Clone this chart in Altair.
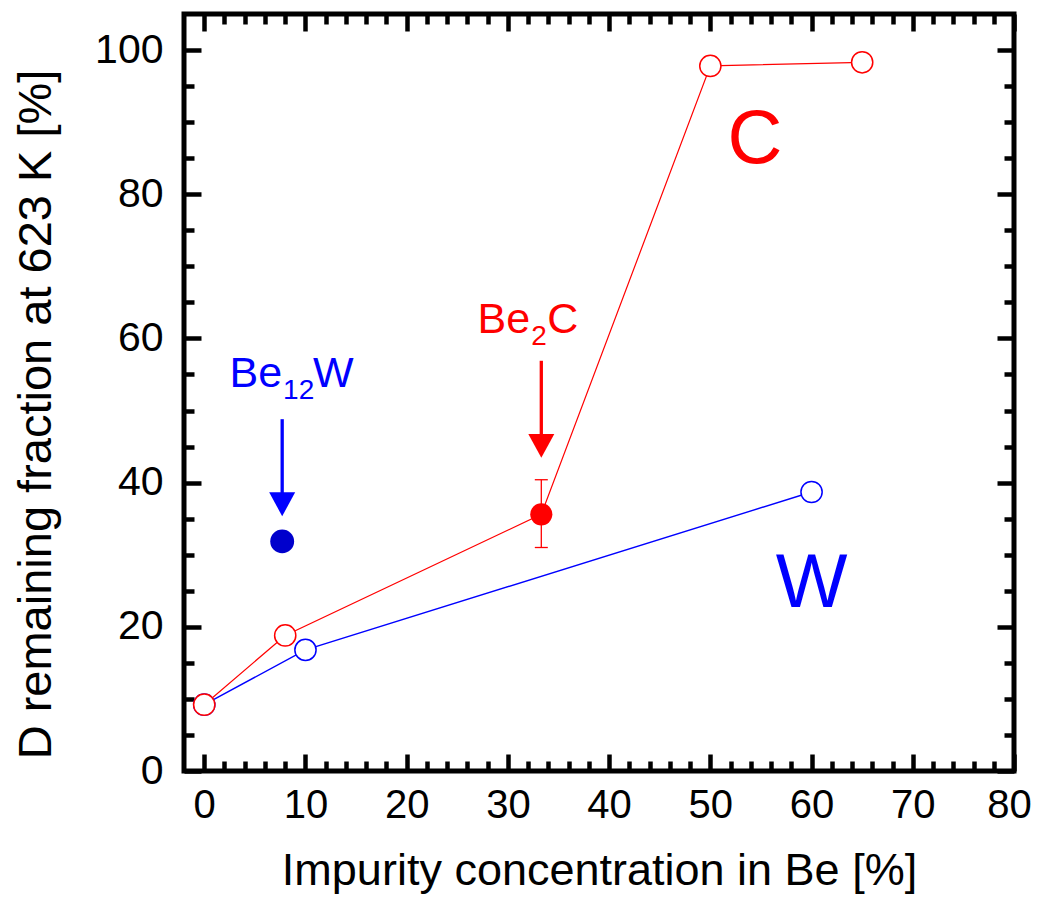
import altair as alt
import pandas as pd

FONT = "Liberation Sans"
RED = "#FF0000"
BLUE = "#0000FF"
DARKBLUE = "#0000CC"

# ---------------- data ----------------
c_x = [0, 8, 33.3, 50, 65]
c_y = [9.2, 18.8, 35.6, 97.8, 98.3]
c_open = [True, True, False, True, True]

w_x = [0, 10, 60]
w_y = [9.2, 16.8, 38.7]

be12w_x = [7.7]
be12w_y = [31.85]

be2c_x = [33.3]
be2c_y = [35.6]
be2c_err_lo = [31.0]
be2c_err_hi = [40.4]

# annotations
arrow_x = [7.7, 33.3]
arrow_top = [48.8, 56.9]
arrow_head = [37.0, 45.1]
arrow_color = [BLUE, RED]

formula_x = [7.69, 32.2]
formula_y = [53.2, 60.7]
formula_main = ["Be", "Be"]
formula_sub = ["12", "2"]
formula_color = [BLUE, RED]

big_x = [54.4, 60.0]
big_y = [84.3, 22.7]
big_text = ["C", "W"]
big_color = [RED, BLUE]

x_major = list(range(0, 81, 10))
x_minor = [v for v in range(0, 81, 2) if v % 10]
y_major = list(range(0, 101, 20))
y_minor = [v for v in range(0, 101, 5) if v % 20]

W, H = 830, 757

xs = alt.Scale(domain=[-2, 80], nice=False, zero=False)
ys = alt.Scale(domain=[0, 105], nice=False, zero=False)


def X(field="x"):
    return alt.X(f"{field}:Q", scale=xs, axis=None)


def Y(field="y"):
    return alt.Y(f"{field}:Q", scale=ys, axis=None)


# ---------------- data layers ----------------
c_df = pd.DataFrame({"x": c_x, "y": c_y, "o": list(range(len(c_x))), "open": c_open})
w_df = pd.DataFrame({"x": w_x, "y": w_y, "o": list(range(len(w_x)))})

line_w = alt.Chart(w_df).mark_line(color=BLUE, strokeWidth=1.4).encode(
    x=X(), y=Y(), order="o:Q")
line_c = alt.Chart(c_df).mark_line(color=RED, strokeWidth=1.2).encode(
    x=X(), y=Y(), order="o:Q")

err_df = pd.DataFrame({"x": be2c_x, "lo": be2c_err_lo, "hi": be2c_err_hi})
err_rule = alt.Chart(err_df).mark_rule(color=RED, strokeWidth=1.3).encode(
    x=X(), y=Y("lo"), y2="hi:Q")
cap_df = pd.DataFrame({"x": be2c_x * 2, "y": be2c_err_lo + be2c_err_hi})
err_caps = alt.Chart(cap_df).mark_tick(color=RED, orient="horizontal", size=13,
                                      thickness=1.3, opacity=1).encode(x=X(), y=Y())

open_w = alt.Chart(w_df).mark_circle(fill="white", stroke=BLUE, strokeWidth=1.5,
                                     size=450, opacity=1).encode(x=X(), y=Y())
open_c = alt.Chart(c_df[c_df["open"]]).mark_circle(fill="white", stroke=RED, strokeWidth=1.5,
                                                   size=450, opacity=1).encode(x=X(), y=Y())

fill_be12w = alt.Chart(pd.DataFrame({"x": be12w_x, "y": be12w_y})).mark_circle(
    color=DARKBLUE, size=570, opacity=1).encode(x=X(), y=Y())
fill_be2c = alt.Chart(pd.DataFrame({"x": be2c_x, "y": be2c_y})).mark_circle(
    color=RED, size=490, opacity=1).encode(x=X(), y=Y())

arrow_df = pd.DataFrame({"x": arrow_x, "top": arrow_top, "head": arrow_head, "c": arrow_color})
arrow_shaft = alt.Chart(arrow_df).mark_rule(strokeWidth=3.3).encode(
    x=X(), y=Y("top"), y2="head:Q", color=alt.Color("c:N", scale=None))
arrow_tip = alt.Chart(arrow_df).mark_point(
    shape="M -1 -0.92 L 1 -0.92 L 0 0.92 Z", size=676, filled=True, opacity=1,
    strokeWidth=0).encode(x=X(), y=Y("head"), color=alt.Color("c:N", scale=None))

f_df = pd.DataFrame({"x": formula_x, "y": formula_y, "m": formula_main,
                     "s": formula_sub, "c": formula_color})
f_main = alt.Chart(f_df).mark_text(font=FONT, fontSize=43, align="right",
                                   baseline="alphabetic").encode(
    x=X(), y=Y(), text="m:N", color=alt.Color("c:N", scale=None))
f_sub = alt.Chart(f_df).mark_text(font=FONT, fontSize=28, align="left",
                                  baseline="alphabetic", dx=1, dy=11.5).encode(
    x=X(), y=Y(), text="s:N", color=alt.Color("c:N", scale=None))
f_tail_w = alt.Chart(f_df.iloc[[0]]).mark_text(font=FONT, fontSize=43, align="left",
                                               baseline="alphabetic", dx=31, text="W").encode(
    x=X(), y=Y(), color=alt.Color("c:N", scale=None))
f_tail_c = alt.Chart(f_df.iloc[[1]]).mark_text(font=FONT, fontSize=43, align="left",
                                               baseline="alphabetic", dx=17, text="C").encode(
    x=X(), y=Y(), color=alt.Color("c:N", scale=None))

big_df = pd.DataFrame({"x": big_x, "y": big_y, "t": big_text, "c": big_color})
big = alt.Chart(big_df).mark_text(font=FONT, fontSize=76, align="center",
                                  baseline="alphabetic").encode(
    x=X(), y=Y(), text="t:N", color=alt.Color("c:N", scale=None))

# ---------------- axis layers ----------------
dummy = pd.DataFrame({"x": [0], "y": [0]})


def tick_axis(orient, offset, values, size):
    return alt.Axis(orient=orient, offset=offset, values=values, ticks=True,
                    tickSize=size, tickWidth=4.5, tickColor="black", labels=False,
                    domain=False, grid=False, title=None)


x_label_axis = alt.Axis(orient="bottom", values=x_major, ticks=False, tickSize=0,
                        labelFont=FONT, labelFontSize=40, labelPadding=14,
                        labelOffset={"condition": {"test": "datum.value == 80", "value": -5},
                                     "value": 0},
                        labelColor="black", labelFlush=False, labelOverlap=False,
                        domain=False, grid=False,
                        title="Impurity concentration in Be [%]", titleFont=FONT,
                        titleFontSize=45, titleFontWeight="normal", titleColor="black",
                        titleX=W / 2, titleY=113, titleAlign="center",
                        titleBaseline="alphabetic")
y_label_axis = alt.Axis(orient="left", values=y_major, ticks=False, tickSize=0,
                        labelFont=FONT, labelFontSize=41, labelPadding=21,
                        labelColor="black", labelFlush=False, labelOverlap=False,
                        domain=False, grid=False,
                        title="D remaining fraction at 623 K [%]", titleFont=FONT,
                        titleFontSize=47, titleFontWeight="normal", titleColor="black",
                        titleX=-134, titleY=400, titleAngle=270, titleAlign="center",
                        titleBaseline="alphabetic")

axis_pairs = [
    (x_label_axis, y_label_axis),
    (tick_axis("top", -H, x_major, 17), tick_axis("right", -W, y_major, 17)),
    (tick_axis("top", -H, x_minor, 10), tick_axis("right", -W, y_minor, 10)),
    (tick_axis("bottom", -H, x_major, 17), tick_axis("left", -W, y_major, 17)),
    (tick_axis("bottom", -H, x_minor, 10), tick_axis("left", -W, y_minor, 10)),
]

axis_layers = [
    alt.Chart(dummy).mark_point(opacity=0).encode(
        x=alt.X("x:Q", scale=xs, axis=ax), y=alt.Y("y:Q", scale=ys, axis=ay))
    for ax, ay in axis_pairs
]

chart = alt.layer(
    line_w, line_c, err_rule, err_caps, open_w, open_c, fill_be12w, fill_be2c,
    arrow_shaft, arrow_tip, f_main, f_sub, f_tail_w, f_tail_c, big,
    *axis_layers
).resolve_axis(x="independent", y="independent").properties(
    width=W, height=H,
    autosize=alt.AutoSizeParams(type="none"),
    padding={"left": 176, "top": 6, "right": 18, "bottom": 124},
).configure_view(stroke="black", strokeWidth=5)

chart.save("out.html", embed_options={"renderer": "svg", "actions": False})
